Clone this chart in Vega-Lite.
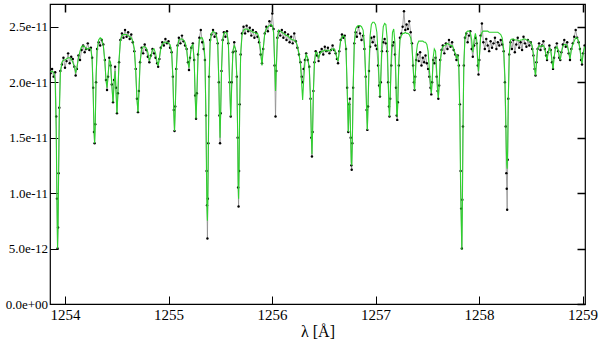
{
"$schema": "https://vega.github.io/schema/vega-lite/v6.json",
"width": 535, "height": 300,
"autosize": "none",
"padding": {"left": 50, "top": 4, "right": 15, "bottom": 38},
"background": "white",
"data": {"values": [
{"w":1253.860,"o":2.08e-11,"m":2.09e-11},
{"w":1253.875,"o":2.12e-11,"m":2.10e-11},
{"w":1253.890,"o":2.05e-11,"m":2.09e-11},
{"w":1253.905,"o":2.09e-11,"m":2.02e-11},
{"w":1253.915,"o":1.69e-11,"m":1.55e-11},
{"w":1253.922,"o":0.95e-11,"m":0.95e-11},
{"w":1253.928,"o":0.50e-11,"m":0.50e-11},
{"w":1253.933,"o":0.69e-11,"m":0.73e-11},
{"w":1253.938,"o":1.18e-11,"m":1.15e-11},
{"w":1253.945,"o":1.77e-11,"m":1.70e-11},
{"w":1253.955,"o":2.10e-11,"m":2.08e-11},
{"w":1253.970,"o":2.16e-11,"m":2.18e-11},
{"w":1253.985,"o":2.22e-11,"m":2.20e-11},
{"w":1254.000,"o":2.13e-11,"m":2.20e-11},
{"w":1254.015,"o":2.19e-11,"m":2.21e-11},
{"w":1254.030,"o":2.26e-11,"m":2.22e-11},
{"w":1254.045,"o":2.17e-11,"m":2.22e-11},
{"w":1254.060,"o":2.23e-11,"m":2.21e-11},
{"w":1254.075,"o":2.21e-11,"m":2.18e-11},
{"w":1254.090,"o":2.14e-11,"m":2.14e-11},
{"w":1254.103,"o":2.06e-11,"m":2.09e-11},
{"w":1254.115,"o":2.12e-11,"m":2.13e-11},
{"w":1254.130,"o":2.24e-11,"m":2.22e-11},
{"w":1254.145,"o":2.20e-11,"m":2.28e-11},
{"w":1254.160,"o":2.29e-11,"m":2.32e-11},
{"w":1254.175,"o":2.33e-11,"m":2.33e-11},
{"w":1254.190,"o":2.27e-11,"m":2.32e-11},
{"w":1254.205,"o":2.30e-11,"m":2.30e-11},
{"w":1254.220,"o":2.35e-11,"m":2.30e-11},
{"w":1254.235,"o":2.29e-11,"m":2.31e-11},
{"w":1254.250,"o":2.31e-11,"m":2.30e-11},
{"w":1254.262,"o":2.22e-11,"m":2.20e-11},
{"w":1254.272,"o":1.95e-11,"m":1.90e-11},
{"w":1254.280,"o":1.55e-11,"m":1.58e-11},
{"w":1254.286,"o":1.45e-11,"m":1.45e-11},
{"w":1254.292,"o":1.62e-11,"m":1.60e-11},
{"w":1254.300,"o":2.00e-11,"m":2.05e-11},
{"w":1254.310,"o":2.30e-11,"m":2.28e-11},
{"w":1254.325,"o":2.36e-11,"m":2.38e-11},
{"w":1254.340,"o":2.33e-11,"m":2.40e-11},
{"w":1254.355,"o":2.38e-11,"m":2.39e-11},
{"w":1254.370,"o":2.34e-11,"m":2.33e-11},
{"w":1254.385,"o":2.20e-11,"m":2.18e-11},
{"w":1254.396,"o":2.02e-11,"m":2.02e-11},
{"w":1254.406,"o":1.93e-11,"m":1.95e-11},
{"w":1254.416,"o":2.05e-11,"m":2.06e-11},
{"w":1254.428,"o":2.22e-11,"m":2.20e-11},
{"w":1254.440,"o":2.15e-11,"m":2.18e-11},
{"w":1254.452,"o":1.98e-11,"m":1.98e-11},
{"w":1254.464,"o":1.82e-11,"m":1.82e-11},
{"w":1254.474,"o":2.02e-11,"m":1.98e-11},
{"w":1254.484,"o":2.14e-11,"m":2.10e-11},
{"w":1254.493,"o":1.95e-11,"m":1.90e-11},
{"w":1254.502,"o":1.72e-11,"m":1.72e-11},
{"w":1254.511,"o":1.90e-11,"m":1.90e-11},
{"w":1254.522,"o":2.18e-11,"m":2.20e-11},
{"w":1254.535,"o":2.38e-11,"m":2.37e-11},
{"w":1254.550,"o":2.44e-11,"m":2.42e-11},
{"w":1254.565,"o":2.40e-11,"m":2.43e-11},
{"w":1254.580,"o":2.47e-11,"m":2.43e-11},
{"w":1254.595,"o":2.41e-11,"m":2.43e-11},
{"w":1254.610,"o":2.45e-11,"m":2.42e-11},
{"w":1254.625,"o":2.39e-11,"m":2.41e-11},
{"w":1254.640,"o":2.43e-11,"m":2.40e-11},
{"w":1254.655,"o":2.36e-11,"m":2.37e-11},
{"w":1254.670,"o":2.28e-11,"m":2.30e-11},
{"w":1254.683,"o":2.12e-11,"m":2.10e-11},
{"w":1254.695,"o":1.85e-11,"m":1.85e-11},
{"w":1254.705,"o":1.73e-11,"m":1.73e-11},
{"w":1254.714,"o":1.92e-11,"m":1.90e-11},
{"w":1254.725,"o":2.18e-11,"m":2.17e-11},
{"w":1254.740,"o":2.31e-11,"m":2.30e-11},
{"w":1254.755,"o":2.26e-11,"m":2.32e-11},
{"w":1254.770,"o":2.34e-11,"m":2.32e-11},
{"w":1254.785,"o":2.29e-11,"m":2.31e-11},
{"w":1254.800,"o":2.23e-11,"m":2.27e-11},
{"w":1254.815,"o":2.18e-11,"m":2.20e-11},
{"w":1254.830,"o":2.24e-11,"m":2.23e-11},
{"w":1254.845,"o":2.30e-11,"m":2.29e-11},
{"w":1254.860,"o":2.26e-11,"m":2.30e-11},
{"w":1254.875,"o":2.22e-11,"m":2.26e-11},
{"w":1254.890,"o":2.17e-11,"m":2.18e-11},
{"w":1254.900,"o":2.14e-11,"m":2.15e-11},
{"w":1254.912,"o":2.21e-11,"m":2.22e-11},
{"w":1254.925,"o":2.31e-11,"m":2.30e-11},
{"w":1254.940,"o":2.36e-11,"m":2.34e-11},
{"w":1254.955,"o":2.33e-11,"m":2.36e-11},
{"w":1254.970,"o":2.39e-11,"m":2.36e-11},
{"w":1254.985,"o":2.35e-11,"m":2.36e-11},
{"w":1255.000,"o":2.37e-11,"m":2.35e-11},
{"w":1255.015,"o":2.31e-11,"m":2.34e-11},
{"w":1255.030,"o":2.27e-11,"m":2.28e-11},
{"w":1255.042,"o":2.05e-11,"m":2.05e-11},
{"w":1255.051,"o":1.75e-11,"m":1.72e-11},
{"w":1255.058,"o":1.56e-11,"m":1.56e-11},
{"w":1255.065,"o":1.78e-11,"m":1.75e-11},
{"w":1255.075,"o":2.12e-11,"m":2.10e-11},
{"w":1255.087,"o":2.33e-11,"m":2.32e-11},
{"w":1255.100,"o":2.40e-11,"m":2.38e-11},
{"w":1255.115,"o":2.35e-11,"m":2.39e-11},
{"w":1255.130,"o":2.42e-11,"m":2.39e-11},
{"w":1255.145,"o":2.37e-11,"m":2.38e-11},
{"w":1255.160,"o":2.33e-11,"m":2.36e-11},
{"w":1255.175,"o":2.30e-11,"m":2.30e-11},
{"w":1255.188,"o":2.18e-11,"m":2.18e-11},
{"w":1255.198,"o":2.11e-11,"m":2.13e-11},
{"w":1255.208,"o":2.22e-11,"m":2.22e-11},
{"w":1255.220,"o":2.31e-11,"m":2.32e-11},
{"w":1255.235,"o":2.35e-11,"m":2.34e-11},
{"w":1255.248,"o":2.20e-11,"m":2.20e-11},
{"w":1255.258,"o":1.88e-11,"m":1.85e-11},
{"w":1255.266,"o":1.67e-11,"m":1.67e-11},
{"w":1255.274,"o":1.90e-11,"m":1.88e-11},
{"w":1255.285,"o":2.25e-11,"m":2.22e-11},
{"w":1255.298,"o":2.40e-11,"m":2.38e-11},
{"w":1255.312,"o":2.47e-11,"m":2.40e-11},
{"w":1255.326,"o":2.36e-11,"m":2.40e-11},
{"w":1255.340,"o":2.30e-11,"m":2.36e-11},
{"w":1255.352,"o":2.20e-11,"m":2.22e-11},
{"w":1255.362,"o":1.70e-11,"m":1.65e-11},
{"w":1255.368,"o":1.20e-11,"m":1.10e-11},
{"w":1255.372,"o":0.89e-11,"m":0.85e-11},
{"w":1255.376,"o":0.59e-11,"m":0.75e-11},
{"w":1255.380,"o":0.95e-11,"m":0.95e-11},
{"w":1255.385,"o":1.45e-11,"m":1.40e-11},
{"w":1255.392,"o":2.05e-11,"m":2.00e-11},
{"w":1255.402,"o":2.38e-11,"m":2.35e-11},
{"w":1255.415,"o":2.43e-11,"m":2.44e-11},
{"w":1255.430,"o":2.47e-11,"m":2.46e-11},
{"w":1255.445,"o":2.41e-11,"m":2.45e-11},
{"w":1255.460,"o":2.44e-11,"m":2.43e-11},
{"w":1255.475,"o":2.35e-11,"m":2.36e-11},
{"w":1255.486,"o":2.00e-11,"m":2.02e-11},
{"w":1255.492,"o":1.70e-11,"m":1.72e-11},
{"w":1255.498,"o":1.45e-11,"m":1.50e-11},
{"w":1255.504,"o":1.72e-11,"m":1.74e-11},
{"w":1255.512,"o":2.10e-11,"m":2.10e-11},
{"w":1255.523,"o":2.38e-11,"m":2.38e-11},
{"w":1255.535,"o":2.45e-11,"m":2.44e-11},
{"w":1255.550,"o":2.41e-11,"m":2.45e-11},
{"w":1255.565,"o":2.46e-11,"m":2.44e-11},
{"w":1255.578,"o":2.35e-11,"m":2.36e-11},
{"w":1255.590,"o":2.00e-11,"m":2.00e-11},
{"w":1255.601,"o":1.69e-11,"m":1.69e-11},
{"w":1255.611,"o":2.00e-11,"m":1.98e-11},
{"w":1255.622,"o":2.27e-11,"m":2.28e-11},
{"w":1255.635,"o":2.36e-11,"m":2.33e-11},
{"w":1255.648,"o":2.28e-11,"m":2.30e-11},
{"w":1255.660,"o":2.05e-11,"m":2.05e-11},
{"w":1255.668,"o":1.50e-11,"m":1.55e-11},
{"w":1255.673,"o":1.05e-11,"m":1.10e-11},
{"w":1255.677,"o":0.88e-11,"m":0.95e-11},
{"w":1255.682,"o":1.20e-11,"m":1.25e-11},
{"w":1255.688,"o":1.80e-11,"m":1.80e-11},
{"w":1255.697,"o":2.25e-11,"m":2.25e-11},
{"w":1255.710,"o":2.44e-11,"m":2.42e-11},
{"w":1255.725,"o":2.50e-11,"m":2.47e-11},
{"w":1255.740,"o":2.44e-11,"m":2.48e-11},
{"w":1255.755,"o":2.51e-11,"m":2.48e-11},
{"w":1255.770,"o":2.46e-11,"m":2.47e-11},
{"w":1255.785,"o":2.49e-11,"m":2.47e-11},
{"w":1255.800,"o":2.42e-11,"m":2.46e-11},
{"w":1255.815,"o":2.47e-11,"m":2.45e-11},
{"w":1255.830,"o":2.40e-11,"m":2.45e-11},
{"w":1255.845,"o":2.45e-11,"m":2.44e-11},
{"w":1255.860,"o":2.41e-11,"m":2.44e-11},
{"w":1255.875,"o":2.36e-11,"m":2.40e-11},
{"w":1255.890,"o":2.25e-11,"m":2.28e-11},
{"w":1255.903,"o":2.17e-11,"m":2.15e-11},
{"w":1255.915,"o":2.30e-11,"m":2.30e-11},
{"w":1255.930,"o":2.44e-11,"m":2.44e-11},
{"w":1255.945,"o":2.50e-11,"m":2.48e-11},
{"w":1255.960,"o":2.46e-11,"m":2.50e-11},
{"w":1255.975,"o":2.55e-11,"m":2.51e-11},
{"w":1255.990,"o":2.51e-11,"m":2.52e-11},
{"w":1256.003,"o":2.62e-11,"m":2.51e-11},
{"w":1256.015,"o":2.48e-11,"m":2.45e-11},
{"w":1256.025,"o":2.15e-11,"m":2.20e-11},
{"w":1256.034,"o":1.69e-11,"m":1.92e-11},
{"w":1256.042,"o":2.10e-11,"m":2.15e-11},
{"w":1256.052,"o":2.40e-11,"m":2.40e-11},
{"w":1256.065,"o":2.46e-11,"m":2.47e-11},
{"w":1256.080,"o":2.42e-11,"m":2.46e-11},
{"w":1256.095,"o":2.47e-11,"m":2.45e-11},
{"w":1256.110,"o":2.40e-11,"m":2.44e-11},
{"w":1256.125,"o":2.45e-11,"m":2.43e-11},
{"w":1256.140,"o":2.38e-11,"m":2.42e-11},
{"w":1256.155,"o":2.43e-11,"m":2.42e-11},
{"w":1256.170,"o":2.36e-11,"m":2.40e-11},
{"w":1256.185,"o":2.41e-11,"m":2.39e-11},
{"w":1256.200,"o":2.35e-11,"m":2.38e-11},
{"w":1256.215,"o":2.44e-11,"m":2.38e-11},
{"w":1256.230,"o":2.37e-11,"m":2.37e-11},
{"w":1256.245,"o":2.31e-11,"m":2.33e-11},
{"w":1256.260,"o":2.25e-11,"m":2.26e-11},
{"w":1256.275,"o":2.18e-11,"m":2.16e-11},
{"w":1256.287,"o":2.05e-11,"m":1.98e-11},
{"w":1256.296,"o":2.00e-11,"m":1.84e-11},
{"w":1256.305,"o":2.12e-11,"m":2.00e-11},
{"w":1256.318,"o":2.20e-11,"m":2.18e-11},
{"w":1256.330,"o":2.26e-11,"m":2.25e-11},
{"w":1256.345,"o":2.20e-11,"m":2.22e-11},
{"w":1256.360,"o":2.14e-11,"m":2.12e-11},
{"w":1256.372,"o":1.85e-11,"m":1.85e-11},
{"w":1256.380,"o":1.50e-11,"m":1.52e-11},
{"w":1256.386,"o":1.33e-11,"m":1.35e-11},
{"w":1256.392,"o":1.55e-11,"m":1.55e-11},
{"w":1256.400,"o":1.92e-11,"m":1.92e-11},
{"w":1256.410,"o":2.18e-11,"m":2.18e-11},
{"w":1256.422,"o":2.28e-11,"m":2.27e-11},
{"w":1256.435,"o":2.24e-11,"m":2.27e-11},
{"w":1256.450,"o":2.19e-11,"m":2.22e-11},
{"w":1256.465,"o":2.27e-11,"m":2.26e-11},
{"w":1256.480,"o":2.30e-11,"m":2.28e-11},
{"w":1256.495,"o":2.25e-11,"m":2.28e-11},
{"w":1256.510,"o":2.32e-11,"m":2.29e-11},
{"w":1256.525,"o":2.28e-11,"m":2.28e-11},
{"w":1256.540,"o":2.31e-11,"m":2.29e-11},
{"w":1256.555,"o":2.26e-11,"m":2.28e-11},
{"w":1256.570,"o":2.29e-11,"m":2.29e-11},
{"w":1256.585,"o":2.33e-11,"m":2.30e-11},
{"w":1256.600,"o":2.29e-11,"m":2.30e-11},
{"w":1256.615,"o":2.26e-11,"m":2.27e-11},
{"w":1256.627,"o":2.21e-11,"m":2.22e-11},
{"w":1256.638,"o":2.17e-11,"m":2.19e-11},
{"w":1256.650,"o":2.28e-11,"m":2.28e-11},
{"w":1256.663,"o":2.38e-11,"m":2.37e-11},
{"w":1256.676,"o":2.43e-11,"m":2.41e-11},
{"w":1256.690,"o":2.40e-11,"m":2.42e-11},
{"w":1256.703,"o":2.42e-11,"m":2.40e-11},
{"w":1256.715,"o":2.30e-11,"m":2.30e-11},
{"w":1256.726,"o":1.95e-11,"m":1.95e-11},
{"w":1256.737,"o":1.55e-11,"m":1.55e-11},
{"w":1256.745,"o":1.80e-11,"m":1.82e-11},
{"w":1256.752,"o":1.85e-11,"m":1.80e-11},
{"w":1256.760,"o":1.50e-11,"m":1.50e-11},
{"w":1256.766,"o":1.25e-11,"m":1.28e-11},
{"w":1256.770,"o":1.21e-11,"m":1.25e-11},
{"w":1256.776,"o":1.45e-11,"m":1.45e-11},
{"w":1256.784,"o":1.95e-11,"m":1.95e-11},
{"w":1256.795,"o":2.35e-11,"m":2.35e-11},
{"w":1256.808,"o":2.45e-11,"m":2.48e-11},
{"w":1256.820,"o":2.41e-11,"m":2.50e-11},
{"w":1256.835,"o":2.50e-11,"m":2.51e-11},
{"w":1256.850,"o":2.44e-11,"m":2.51e-11},
{"w":1256.865,"o":2.38e-11,"m":2.50e-11},
{"w":1256.880,"o":2.42e-11,"m":2.47e-11},
{"w":1256.893,"o":2.30e-11,"m":2.35e-11},
{"w":1256.905,"o":2.05e-11,"m":2.05e-11},
{"w":1256.914,"o":1.75e-11,"m":1.75e-11},
{"w":1256.921,"o":1.57e-11,"m":1.57e-11},
{"w":1256.928,"o":1.78e-11,"m":1.80e-11},
{"w":1256.937,"o":2.10e-11,"m":2.15e-11},
{"w":1256.948,"o":2.32e-11,"m":2.42e-11},
{"w":1256.960,"o":2.40e-11,"m":2.52e-11},
{"w":1256.973,"o":2.36e-11,"m":2.54e-11},
{"w":1256.986,"o":2.41e-11,"m":2.54e-11},
{"w":1257.000,"o":2.33e-11,"m":2.52e-11},
{"w":1257.013,"o":2.30e-11,"m":2.45e-11},
{"w":1257.025,"o":2.15e-11,"m":2.25e-11},
{"w":1257.035,"o":1.97e-11,"m":2.00e-11},
{"w":1257.043,"o":1.87e-11,"m":1.87e-11},
{"w":1257.051,"o":2.00e-11,"m":2.05e-11},
{"w":1257.062,"o":2.28e-11,"m":2.35e-11},
{"w":1257.075,"o":2.36e-11,"m":2.50e-11},
{"w":1257.088,"o":2.39e-11,"m":2.53e-11},
{"w":1257.100,"o":2.35e-11,"m":2.52e-11},
{"w":1257.112,"o":2.28e-11,"m":2.40e-11},
{"w":1257.122,"o":2.00e-11,"m":2.05e-11},
{"w":1257.130,"o":1.78e-11,"m":1.78e-11},
{"w":1257.135,"o":1.69e-11,"m":1.69e-11},
{"w":1257.142,"o":1.85e-11,"m":1.88e-11},
{"w":1257.152,"o":2.15e-11,"m":2.22e-11},
{"w":1257.164,"o":2.33e-11,"m":2.45e-11},
{"w":1257.176,"o":2.36e-11,"m":2.48e-11},
{"w":1257.188,"o":2.25e-11,"m":2.35e-11},
{"w":1257.198,"o":1.95e-11,"m":2.00e-11},
{"w":1257.205,"o":1.70e-11,"m":1.72e-11},
{"w":1257.210,"o":1.66e-11,"m":1.69e-11},
{"w":1257.216,"o":1.82e-11,"m":1.85e-11},
{"w":1257.225,"o":2.15e-11,"m":2.18e-11},
{"w":1257.236,"o":2.40e-11,"m":2.38e-11},
{"w":1257.250,"o":2.44e-11,"m":2.42e-11},
{"w":1257.262,"o":2.50e-11,"m":2.44e-11},
{"w":1257.275,"o":2.64e-11,"m":2.44e-11},
{"w":1257.288,"o":2.47e-11,"m":2.45e-11},
{"w":1257.300,"o":2.52e-11,"m":2.44e-11},
{"w":1257.313,"o":2.48e-11,"m":2.44e-11},
{"w":1257.326,"o":2.55e-11,"m":2.43e-11},
{"w":1257.340,"o":2.45e-11,"m":2.40e-11},
{"w":1257.352,"o":2.35e-11,"m":2.32e-11},
{"w":1257.363,"o":2.15e-11,"m":2.15e-11},
{"w":1257.371,"o":2.00e-11,"m":2.00e-11},
{"w":1257.377,"o":1.93e-11,"m":1.93e-11},
{"w":1257.384,"o":2.05e-11,"m":2.05e-11},
{"w":1257.393,"o":2.20e-11,"m":2.25e-11},
{"w":1257.405,"o":2.25e-11,"m":2.34e-11},
{"w":1257.418,"o":2.19e-11,"m":2.37e-11},
{"w":1257.431,"o":2.27e-11,"m":2.37e-11},
{"w":1257.444,"o":2.15e-11,"m":2.37e-11},
{"w":1257.457,"o":2.22e-11,"m":2.37e-11},
{"w":1257.470,"o":2.18e-11,"m":2.36e-11},
{"w":1257.483,"o":2.24e-11,"m":2.36e-11},
{"w":1257.496,"o":2.17e-11,"m":2.34e-11},
{"w":1257.508,"o":2.12e-11,"m":2.28e-11},
{"w":1257.520,"o":2.05e-11,"m":2.12e-11},
{"w":1257.531,"o":1.95e-11,"m":1.98e-11},
{"w":1257.539,"o":1.89e-11,"m":1.90e-11},
{"w":1257.547,"o":2.00e-11,"m":2.00e-11},
{"w":1257.557,"o":2.20e-11,"m":2.22e-11},
{"w":1257.568,"o":2.17e-11,"m":2.30e-11},
{"w":1257.580,"o":2.22e-11,"m":2.28e-11},
{"w":1257.591,"o":2.05e-11,"m":2.10e-11},
{"w":1257.600,"o":1.92e-11,"m":1.92e-11},
{"w":1257.607,"o":1.85e-11,"m":1.86e-11},
{"w":1257.615,"o":1.97e-11,"m":1.98e-11},
{"w":1257.625,"o":2.20e-11,"m":2.18e-11},
{"w":1257.638,"o":2.29e-11,"m":2.28e-11},
{"w":1257.650,"o":2.33e-11,"m":2.32e-11},
{"w":1257.665,"o":2.26e-11,"m":2.33e-11},
{"w":1257.680,"o":2.35e-11,"m":2.34e-11},
{"w":1257.695,"o":2.30e-11,"m":2.35e-11},
{"w":1257.710,"o":2.38e-11,"m":2.34e-11},
{"w":1257.725,"o":2.32e-11,"m":2.33e-11},
{"w":1257.740,"o":2.36e-11,"m":2.33e-11},
{"w":1257.755,"o":2.29e-11,"m":2.30e-11},
{"w":1257.770,"o":2.25e-11,"m":2.26e-11},
{"w":1257.782,"o":2.20e-11,"m":2.22e-11},
{"w":1257.795,"o":2.24e-11,"m":2.24e-11},
{"w":1257.805,"o":2.15e-11,"m":2.12e-11},
{"w":1257.815,"o":1.80e-11,"m":1.70e-11},
{"w":1257.822,"o":1.20e-11,"m":1.05e-11},
{"w":1257.828,"o":0.86e-11,"m":0.75e-11},
{"w":1257.834,"o":0.50e-11,"m":0.49e-11},
{"w":1257.839,"o":0.94e-11,"m":0.85e-11},
{"w":1257.845,"o":1.60e-11,"m":1.55e-11},
{"w":1257.853,"o":2.15e-11,"m":2.15e-11},
{"w":1257.864,"o":2.40e-11,"m":2.40e-11},
{"w":1257.877,"o":2.44e-11,"m":2.45e-11},
{"w":1257.890,"o":2.36e-11,"m":2.46e-11},
{"w":1257.903,"o":2.42e-11,"m":2.46e-11},
{"w":1257.916,"o":2.46e-11,"m":2.45e-11},
{"w":1257.929,"o":2.30e-11,"m":2.38e-11},
{"w":1257.940,"o":2.23e-11,"m":2.27e-11},
{"w":1257.952,"o":2.33e-11,"m":2.38e-11},
{"w":1257.965,"o":2.40e-11,"m":2.44e-11},
{"w":1257.978,"o":2.35e-11,"m":2.38e-11},
{"w":1257.988,"o":2.15e-11,"m":2.18e-11},
{"w":1257.995,"o":2.07e-11,"m":2.10e-11},
{"w":1258.003,"o":2.20e-11,"m":2.22e-11},
{"w":1258.015,"o":2.42e-11,"m":2.40e-11},
{"w":1258.028,"o":2.53e-11,"m":2.45e-11},
{"w":1258.042,"o":2.36e-11,"m":2.46e-11},
{"w":1258.056,"o":2.30e-11,"m":2.46e-11},
{"w":1258.070,"o":2.39e-11,"m":2.46e-11},
{"w":1258.084,"o":2.33e-11,"m":2.46e-11},
{"w":1258.098,"o":2.28e-11,"m":2.45e-11},
{"w":1258.112,"o":2.37e-11,"m":2.45e-11},
{"w":1258.126,"o":2.31e-11,"m":2.45e-11},
{"w":1258.140,"o":2.35e-11,"m":2.45e-11},
{"w":1258.154,"o":2.40e-11,"m":2.45e-11},
{"w":1258.168,"o":2.30e-11,"m":2.45e-11},
{"w":1258.182,"o":2.36e-11,"m":2.45e-11},
{"w":1258.196,"o":2.33e-11,"m":2.44e-11},
{"w":1258.210,"o":2.38e-11,"m":2.43e-11},
{"w":1258.224,"o":2.34e-11,"m":2.40e-11},
{"w":1258.238,"o":2.28e-11,"m":2.30e-11},
{"w":1258.250,"o":2.00e-11,"m":2.05e-11},
{"w":1258.258,"o":1.60e-11,"m":1.70e-11},
{"w":1258.264,"o":1.18e-11,"m":1.40e-11},
{"w":1258.268,"o":1.04e-11,"m":1.26e-11},
{"w":1258.272,"o":0.85e-11,"m":1.22e-11},
{"w":1258.277,"o":1.30e-11,"m":1.40e-11},
{"w":1258.283,"o":1.85e-11,"m":1.85e-11},
{"w":1258.292,"o":2.25e-11,"m":2.25e-11},
{"w":1258.304,"o":2.36e-11,"m":2.38e-11},
{"w":1258.318,"o":2.30e-11,"m":2.39e-11},
{"w":1258.332,"o":2.38e-11,"m":2.39e-11},
{"w":1258.346,"o":2.27e-11,"m":2.38e-11},
{"w":1258.360,"o":2.34e-11,"m":2.38e-11},
{"w":1258.374,"o":2.40e-11,"m":2.38e-11},
{"w":1258.388,"o":2.31e-11,"m":2.37e-11},
{"w":1258.402,"o":2.36e-11,"m":2.38e-11},
{"w":1258.416,"o":2.29e-11,"m":2.38e-11},
{"w":1258.430,"o":2.41e-11,"m":2.39e-11},
{"w":1258.444,"o":2.35e-11,"m":2.39e-11},
{"w":1258.458,"o":2.32e-11,"m":2.38e-11},
{"w":1258.472,"o":2.38e-11,"m":2.38e-11},
{"w":1258.486,"o":2.33e-11,"m":2.37e-11},
{"w":1258.500,"o":2.36e-11,"m":2.36e-11},
{"w":1258.514,"o":2.30e-11,"m":2.33e-11},
{"w":1258.526,"o":2.24e-11,"m":2.25e-11},
{"w":1258.537,"o":2.12e-11,"m":2.12e-11},
{"w":1258.546,"o":2.06e-11,"m":2.06e-11},
{"w":1258.555,"o":2.18e-11,"m":2.17e-11},
{"w":1258.566,"o":2.30e-11,"m":2.30e-11},
{"w":1258.580,"o":2.35e-11,"m":2.33e-11},
{"w":1258.594,"o":2.29e-11,"m":2.32e-11},
{"w":1258.608,"o":2.33e-11,"m":2.33e-11},
{"w":1258.622,"o":2.37e-11,"m":2.33e-11},
{"w":1258.636,"o":2.30e-11,"m":2.30e-11},
{"w":1258.648,"o":2.24e-11,"m":2.24e-11},
{"w":1258.657,"o":2.20e-11,"m":2.20e-11},
{"w":1258.667,"o":2.27e-11,"m":2.26e-11},
{"w":1258.680,"o":2.33e-11,"m":2.31e-11},
{"w":1258.693,"o":2.29e-11,"m":2.29e-11},
{"w":1258.705,"o":2.18e-11,"m":2.20e-11},
{"w":1258.715,"o":2.12e-11,"m":2.12e-11},
{"w":1258.725,"o":2.22e-11,"m":2.22e-11},
{"w":1258.738,"o":2.31e-11,"m":2.30e-11},
{"w":1258.752,"o":2.35e-11,"m":2.32e-11},
{"w":1258.765,"o":2.28e-11,"m":2.29e-11},
{"w":1258.775,"o":2.22e-11,"m":2.24e-11},
{"w":1258.785,"o":2.20e-11,"m":2.20e-11},
{"w":1258.796,"o":2.27e-11,"m":2.27e-11},
{"w":1258.810,"o":2.34e-11,"m":2.32e-11},
{"w":1258.824,"o":2.38e-11,"m":2.34e-11},
{"w":1258.838,"o":2.32e-11,"m":2.34e-11},
{"w":1258.852,"o":2.36e-11,"m":2.33e-11},
{"w":1258.866,"o":2.26e-11,"m":2.28e-11},
{"w":1258.879,"o":2.20e-11,"m":2.21e-11},
{"w":1258.892,"o":2.30e-11,"m":2.29e-11},
{"w":1258.906,"o":2.35e-11,"m":2.34e-11},
{"w":1258.920,"o":2.41e-11,"m":2.37e-11},
{"w":1258.934,"o":2.47e-11,"m":2.40e-11},
{"w":1258.948,"o":2.40e-11,"m":2.40e-11},
{"w":1258.962,"o":2.36e-11,"m":2.37e-11},
{"w":1258.975,"o":2.30e-11,"m":2.30e-11},
{"w":1258.986,"o":2.20e-11,"m":2.22e-11},
{"w":1258.995,"o":2.16e-11,"m":2.17e-11},
{"w":1259.005,"o":2.26e-11,"m":2.25e-11},
{"w":1259.020,"o":2.33e-11,"m":2.32e-11}
]},
"resolve": {"axis": {"x": "independent", "y": "independent"}},
"layer": [
{
"mark": {"type": "line", "color": "#8c8c8c", "strokeWidth": 0.8, "clip": true, "point": {"filled": true, "color": "black", "size": 6}},
"encoding": {
"x": {"field": "w", "type": "quantitative", "scale": {"domain": [1253.855, 1259.024], "nice": false, "zero": false},
"axis": {"orient": "bottom", "values": [1254, 1255, 1256, 1257, 1258, 1259], "format": "d", "ticks": true, "tickSize": -8, "tickColor": "black", "tickWidth": 1, "labelPadding": 11, "labelFont": "Liberation Serif", "labelFontSize": 15, "labelColor": "black", "labelFlush": false, "labelOverlap": false, "title": "λ [Å]", "titleFont": "Liberation Serif", "titleFontSize": 16, "titleFontWeight": "normal", "titleColor": "black", "titlePadding": 1}},
"y": {"field": "o", "type": "quantitative", "scale": {"domain": [0, 2.705e-11], "nice": false, "zero": false},
"axis": {"orient": "left", "values": [0, 5e-12, 1e-11, 1.5e-11, 2e-11, 2.5e-11], "labelExpr": "datum.value == 0 ? '0.0e+00' : format(datum.value, '.1e')", "ticks": true, "tickSize": -8, "tickColor": "black", "tickWidth": 1, "labelPadding": 10.5, "labelFont": "Liberation Serif", "labelFontSize": 13, "labelColor": "black", "labelFlush": false, "labelOverlap": false, "title": null}}
}
},
{
"mark": {"type": "line", "color": "#2fd12f", "strokeWidth": 1.1, "clip": true},
"encoding": {
"x": {"field": "w", "type": "quantitative", "axis": {"orient": "bottom", "offset": -300, "values": [1254, 1255, 1256, 1257, 1258, 1259], "labels": false, "ticks": true, "tickSize": 8, "tickColor": "#000000", "tickWidth": 1.5, "title": null}},
"y": {"field": "m", "type": "quantitative", "axis": {"orient": "left", "offset": -535, "values": [0, 5e-12, 1e-11, 1.5e-11, 2e-11, 2.5e-11], "labels": false, "ticks": true, "tickSize": 8, "tickColor": "#000000", "tickWidth": 1.5, "title": null}}
}
}
],
"config": {
"view": {"stroke": "black", "strokeWidth": 1.2},
"axis": {"domain": false, "grid": false}
}
}
